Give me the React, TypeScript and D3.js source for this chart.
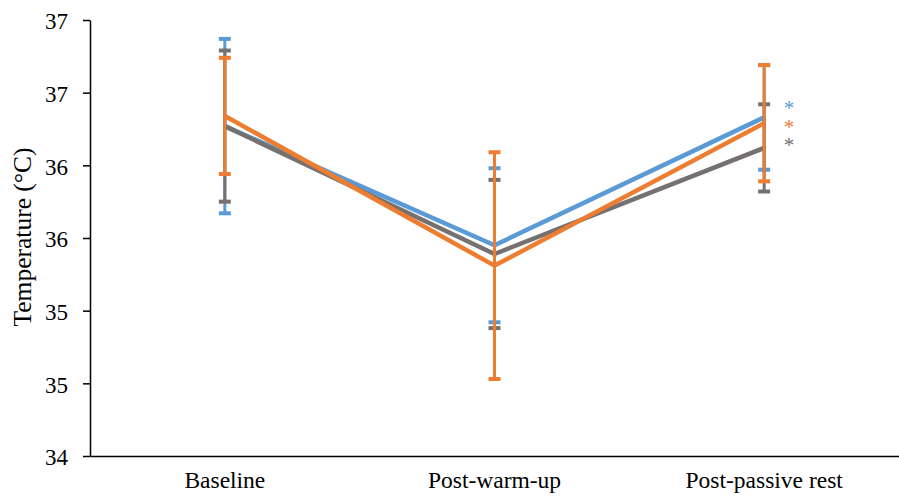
import React, { useRef, useEffect } from "react";
import * as d3 from "d3";

const categories = ["Baseline", "Post-warm-up", "Post-passive rest"];
const seriesNames = ["blue", "grey", "orange"];
const blueMeans = [36.27, 35.45, 36.33];
const blueSd = [0.6, 0.53, 0.36];
const greyMeans = [36.27, 35.39, 36.12];
const greySd = [0.52, 0.51, 0.3];
const orangeMeans = [36.34, 35.31, 36.29];
const orangeSd = [0.4, 0.78, 0.4];
const yTicks = [34, 34.5, 35, 35.5, 36, 36.5, 37];

function App() {
  const svgRef = useRef(null);

  useEffect(() => {
    const svg = d3.select(svgRef.current);
    svg.selectAll("*").remove();
    const font = "'Liberation Serif', 'Times New Roman', serif";

    const series = [
      { name: seriesNames[0], means: blueMeans, sd: blueSd, color: "#5B9BD5" },
      { name: seriesNames[1], means: greyMeans, sd: greySd, color: "#767171" },
      { name: seriesNames[2], means: orangeMeans, sd: orangeSd, color: "#ED7D31" },
    ];

    const x = d3.scaleBand().domain(categories).range([90, 899]);
    const y = d3.scaleLinear().domain([34, 37]).range([456, 20]);
    const cx = (c) => x(c) + x.bandwidth() / 2;

    // y axis
    const yAxis = svg
      .append("g")
      .attr("transform", "translate(90,0)")
      .call(d3.axisLeft(y).tickValues(yTicks).tickSize(7).tickSizeOuter(0).tickFormat((d) => String(Math.round(d))));
    yAxis.select(".domain").attr("stroke", "#000").attr("stroke-width", 1.5);
    yAxis.selectAll(".tick line").attr("stroke", "#000").attr("stroke-width", 1.5);
    yAxis
      .selectAll(".tick text")
      .attr("font-family", font)
      .attr("font-size", 23)
      .attr("fill", "#000")
      .attr("x", -22)
      .attr("dy", "0.38em");

    // x axis
    const xAxis = svg
      .append("g")
      .attr("transform", "translate(0,456)")
      .call(d3.axisBottom(x).tickSize(0).tickSizeOuter(0));
    xAxis.select(".domain").attr("stroke", "#000").attr("stroke-width", 1.5);
    xAxis
      .selectAll(".tick text")
      .attr("font-family", font)
      .attr("font-size", 23.5)
      .attr("fill", "#000")
      .attr("dy", "0")
      .attr("y", 32);

    svg
      .append("text")
      .attr("transform", "translate(31,237) rotate(-90)")
      .attr("text-anchor", "middle")
      .attr("font-family", font)
      .attr("font-size", 25.5)
      .attr("fill", "#000")
      .text("Temperature (°C)");

    const line = d3
      .line()
      .x((d, i) => cx(categories[i]))
      .y((d) => y(d));

    series.forEach((s) => {
      const g = svg.append("g");
      const bars = categories.map((c, i) => ({ c, lo: s.means[i] - s.sd[i], hi: s.means[i] + s.sd[i] }));
      g.selectAll("line.bar")
        .data(bars)
        .join("line")
        .attr("x1", (d) => cx(d.c))
        .attr("x2", (d) => cx(d.c))
        .attr("y1", (d) => y(d.lo))
        .attr("y2", (d) => y(d.hi))
        .attr("stroke", s.color)
        .attr("stroke-width", 3);
      ["lo", "hi"].forEach((k) => {
        g.selectAll("line.cap-" + k)
          .data(bars)
          .join("line")
          .attr("x1", (d) => cx(d.c) - 6)
          .attr("x2", (d) => cx(d.c) + 6)
          .attr("y1", (d) => y(d[k]))
          .attr("y2", (d) => y(d[k]))
          .attr("stroke", s.color)
          .attr("stroke-width", 4);
      });
      g.append("path")
        .datum(s.means)
        .attr("d", line)
        .attr("fill", "none")
        .attr("stroke", s.color)
        .attr("stroke-width", 4.5)
        .attr("stroke-linejoin", "round");
    });

    // significance markers
    const stars = [
      { color: "#5B9BD5", yy: 115 },
      { color: "#ED7D31", yy: 134 },
      { color: "#767171", yy: 152 },
    ];
    svg
      .selectAll("text.star")
      .data(stars)
      .join("text")
      .attr("x", 789)
      .attr("y", (d) => d.yy)
      .attr("text-anchor", "middle")
      .attr("font-family", font)
      .attr("font-size", 21)
      .attr("fill", (d) => d.color)
      .text("*");
  }, []);

  return (
    <svg
      ref={svgRef}
      width={899}
      height={501}
      style={{ position: "absolute", left: 0, top: 0, background: "#fff" }}
    ></svg>
  );
}

export default App;
